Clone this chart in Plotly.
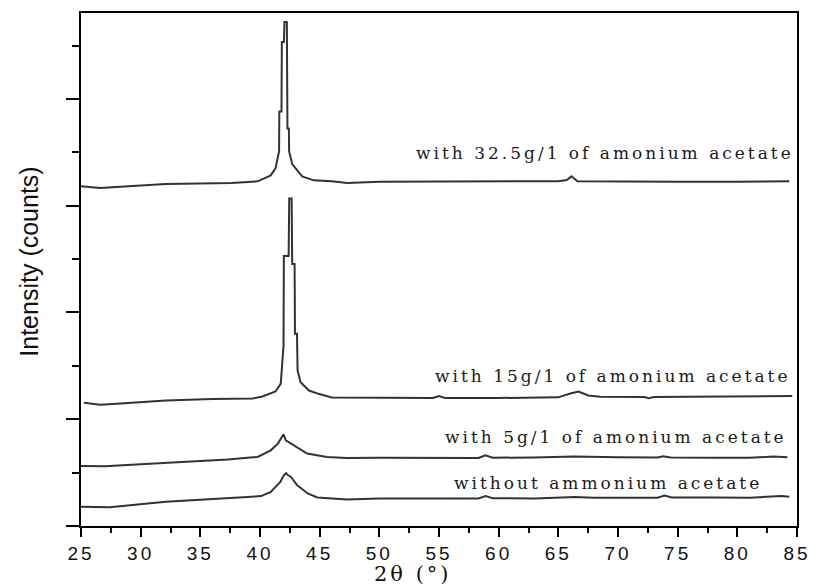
import plotly.graph_objects as go

# 2-theta positions (deg) and intensities (counts) for each sample
two_theta_none = [25.0, 27.4, 32.1, 37.6, 40.1, 40.9, 41.7, 42.0, 42.2, 42.3, 42.6, 43.1, 44.0, 44.8,
                  47.3, 50.0, 55.0, 58.3, 58.9, 59.5, 63.0, 66.4, 68.0, 73.3, 73.9, 74.5, 78.0, 81.0,
                  83.7, 84.35]
counts_none = [360, 349, 453, 517, 560, 640, 827, 952, 989, 960, 920, 765, 610, 536,
               498, 517, 522, 517, 560, 522, 517, 545, 530, 530, 569, 535, 535, 530,
               560, 547]

two_theta_5 = [25.0, 27.0, 30.0, 35.0, 37.3, 39.8, 40.9, 41.5, 41.97, 42.16, 43.1, 43.95, 45.6, 47.3,
               50.0, 55.0, 58.3, 58.9, 59.5, 63.0, 66.3, 70.0, 73.3, 73.8, 74.4, 78.0, 81.0, 83.0,
               84.2]
counts_5 = [1125, 1120, 1157, 1213, 1245, 1293, 1418, 1543, 1717, 1605, 1480, 1357, 1293, 1274,
            1278, 1278, 1274, 1325, 1280, 1282, 1300, 1288, 1285, 1306, 1282, 1280, 1278, 1300,
            1290]

two_theta_15 = [25.25, 26.6, 28.0, 32.1, 36.0, 39.4, 40.2, 41.3, 41.74, 41.97, 42.0, 42.4, 42.45,
                42.65, 42.7, 42.9, 42.93, 43.1, 43.15, 43.4, 44.1, 44.9, 46.0, 50.0, 54.5, 55.0,
                55.5, 60.0, 65.0, 66.0, 66.7, 67.5, 68.5, 72.2, 72.6, 73.0, 78.0, 82.0, 84.6]
counts_15 = [2308, 2271, 2290, 2351, 2380, 2388, 2426, 2519, 2668, 3377, 5057, 5057, 6134,
             6134, 4908, 4908, 3601, 3601, 2911, 2693, 2538, 2476, 2407, 2398, 2398, 2435,
             2398, 2398, 2410, 2482, 2519, 2444, 2420, 2415, 2395, 2415, 2418, 2430, 2435]

two_theta_32 = [25.0, 26.6, 32.1, 37.6, 39.8, 40.2, 40.9, 41.3, 41.47, 41.6, 41.62, 41.8, 41.83,
                42.0, 42.05, 42.25, 42.3, 42.42, 42.44, 42.71, 43.54, 44.5, 46.0, 47.3, 50.0, 55.0,
                60.0, 65.0, 65.7, 66.1, 66.6, 70.0, 75.0, 80.0, 84.35]
counts_32 = [6363, 6331, 6406, 6425, 6456, 6494, 6568, 6699, 6886, 7016, 7763, 7763, 9069,
             9069, 9442, 9442, 7445, 7445, 7016, 6774, 6550, 6475, 6456, 6425, 6447, 6456,
             6456, 6460, 6480, 6550, 6456, 6447, 6447, 6447, 6456]

series = [
    (two_theta_none, counts_none),
    (two_theta_5, counts_5),
    (two_theta_15, counts_15),
    (two_theta_32, counts_32),
]

sample_labels = [
    "without ammonium acetate",
    "with 5g/1 of amonium acetate",
    "with 15g/1 of amonium acetate",
    "with 32.5g/1 of amonium acetate",
]
label_x = [69.12, 69.87, 69.60, 68.91]
label_y = [808, 1666, 2818, 6979]

x_ticks = [25, 30, 35, 40, 45, 50, 55, 60, 65, 70, 75, 80, 85]

LINE = "#333333"


def spaced(text, px):
    return f'<span style="letter-spacing:{px}px">{text}</span>'


fig = go.Figure()
for tt, cc in series:
    fig.add_trace(go.Scatter(x=tt, y=cc, mode="lines",
                             line=dict(color=LINE, width=2), showlegend=False))

for txt, lx, ly in zip(sample_labels, label_x, label_y):
    fig.add_annotation(x=lx, y=ly, xref="x", yref="y", text=spaced(txt, 3),
                       showarrow=False, xanchor="center", yanchor="middle",
                       font=dict(family="DejaVu Serif", size=17, color="#1a1a1a"))

fig.add_annotation(x=-0.0731, y=0.5146, xref="paper", yref="paper",
                   text="Intensity (counts)", textangle=-90, showarrow=False,
                   xanchor="center", yanchor="middle",
                   font=dict(family="Liberation Sans", size=25, color="#111"))
fig.add_annotation(x=0.464, y=-0.094, xref="paper", yref="paper",
                   text=spaced("2θ (°)", 3), showarrow=False,
                   xanchor="center", yanchor="middle",
                   font=dict(family="DejaVu Serif", size=21, color="#111"))

fig.update_xaxes(
    range=[25, 85], tickmode="array", tickvals=x_ticks,
    ticktext=[spaced(str(v), 3) for v in x_ticks],
    ticks="outside", ticklen=9, tickwidth=2, tickcolor="black",
    minor=dict(dtick=2.5, tick0=25, ticks="outside", ticklen=5, tickwidth=2, tickcolor="black"),
    showline=True, linewidth=2, linecolor="black", mirror=True,
    showgrid=False, zeroline=False, ticklabelstandoff=0,
    tickfont=dict(family="Liberation Sans", size=19, color="#111"),
)
fig.update_yaxes(
    range=[0, 9610], dtick=2000, tick0=0, showticklabels=False,
    ticks="outside", ticklen=13, tickwidth=2, tickcolor="black",
    minor=dict(dtick=1000, tick0=0, ticks="outside", ticklen=7, tickwidth=2, tickcolor="black"),
    showline=True, linewidth=2, linecolor="black", mirror=True,
    showgrid=False, zeroline=False,
)
fig.update_layout(
    width=822, height=588,
    margin=dict(l=81, r=16, t=11, b=62),
    paper_bgcolor="white", plot_bgcolor="white",
)

fig.write_html("out.html")
